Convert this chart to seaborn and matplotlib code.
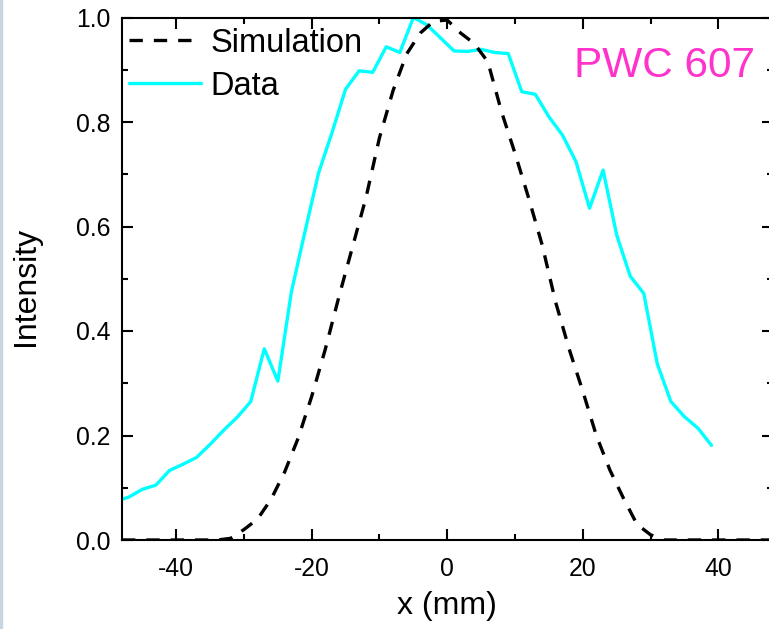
import numpy as np
import pandas as pd
import seaborn as sns
import matplotlib
matplotlib.use("Agg")
import matplotlib.pyplot as plt
from matplotlib.ticker import MultipleLocator
from matplotlib.patches import Rectangle

# ---- data ----
data_x = [-49, -47, -45, -43, -41, -39, -37, -35, -33, -31, -29, -27, -25, -23, -21,
          -19, -17, -15, -13, -11, -9, -7, -5, -3, -1, 1, 3, 5, 7, 9, 11, 13, 15,
          17, 19, 21, 23, 25, 27, 29, 31, 33, 35, 37, 39]
data_y = [0.074, 0.082, 0.097, 0.105, 0.133, 0.145, 0.158, 0.183, 0.210, 0.235,
          0.265, 0.366, 0.304, 0.475, 0.590, 0.702, 0.780, 0.863, 0.898, 0.895,
          0.944, 0.933, 1.000, 0.986, 0.961, 0.936, 0.935, 0.939, 0.933, 0.931,
          0.858, 0.853, 0.810, 0.775, 0.724, 0.635, 0.708, 0.584, 0.505, 0.472,
          0.337, 0.265, 0.236, 0.214, 0.181]

sim_x = [-48, -46, -44, -42, -40, -38, -36, -34, -32, -30, -28, -26, -24, -22, -20,
         -18, -16, -14, -12, -10, -8, -6, -4, -2, 0, 2, 4, 6, 8, 10, 12, 14, 16,
         18, 20, 22, 24, 26, 28, 30, 32, 34, 36, 38, 40, 42, 44, 46, 48]
sim_y = [0.0, 0.0, 0.0, 0.0, 0.0, 0.0, 0.0, 0.0, 0.003, 0.020, 0.040, 0.078, 0.130,
         0.195, 0.275, 0.365, 0.465, 0.560, 0.655, 0.770, 0.860, 0.930, 0.970,
         0.993, 0.995, 0.970, 0.950, 0.915, 0.820, 0.740, 0.655, 0.565, 0.455,
         0.365, 0.285, 0.200, 0.134, 0.080, 0.030, 0.010, 0.0, 0.0, 0.0, 0.0, 0.0,
         0.0, 0.0, 0.0, 0.0]

x_ticks = [-40, -20, 0, 20, 40]
y_ticks = [0.0, 0.2, 0.4, 0.6, 0.8, 1.0]
label_sim = "Simulation"
label_data = "Data"
annotation = "PWC 607"

df_data = pd.DataFrame({"x": data_x, "y": data_y})
df_sim = pd.DataFrame({"x": sim_x, "y": sim_y})

sns.set_style("ticks")
plt.rcParams["font.family"] = ["Liberation Sans", "DejaVu Sans"]
plt.rcParams["axes.unicode_minus"] = False
plt.rcParams["text.color"] = "black"
plt.rcParams["axes.labelcolor"] = "black"
plt.rcParams["xtick.color"] = "black"
plt.rcParams["ytick.color"] = "black"

fig = plt.figure(figsize=(7.69, 6.29), dpi=100)
ax = fig.add_axes([122 / 769, 1 - 540 / 629, (772.5 - 122) / 769, (540 - 17.5) / 629])

sns.lineplot(data=df_data, x="x", y="y", ax=ax, color="#00FFFF",
             label=label_data, sort=False)
sns.lineplot(data=df_sim, x="x", y="y", ax=ax, color="black",
             label=label_sim, sort=False)
ax.lines[0].set_linewidth(2.4)
ax.lines[1].set_linewidth(2.4)
ax.lines[1].set_linestyle((0, (4.0, 3.3)))

ax.set_xlim(-48, 48)
ax.set_ylim(0, 1.0)
ax.set_xticks(x_ticks)
ax.set_yticks(y_ticks)
ax.set_yticklabels([f"{v:.1f}" for v in y_ticks])
ax.xaxis.set_minor_locator(MultipleLocator(10))
ax.yaxis.set_minor_locator(MultipleLocator(0.1))
ax.tick_params(which="both", direction="in", top=True, right=True,
               labeltop=False, labelright=False, width=1.5, color="black")
ax.tick_params(which="major", length=8, labelsize=17.8)
ax.tick_params(axis="y", which="major", pad=8.5)
ax.tick_params(axis="x", which="major", pad=12)
ax.tick_params(which="minor", length=4.5)
for s in ax.spines.values():
    s.set_linewidth(1.5)
    s.set_color("black")

ax.set_xlabel("x (mm)", fontsize=23)
ax.set_ylabel("Intensity", fontsize=23)
ax.xaxis.set_label_coords(0.5, -0.098)
ax.yaxis.set_label_coords(-0.125, 0.485)

h, l = ax.get_legend_handles_labels()
order = [l.index(label_sim), l.index(label_data)]
leg = ax.legend([h[i] for i in order], [l[i] for i in order], loc="upper left",
                frameon=False, fontsize=23.5, handlelength=2.2, handletextpad=0.3,
                labelspacing=0.38, borderaxespad=0.0, borderpad=0.0,
                bbox_to_anchor=(7 / 650.5, 1 - 10 / 522.5))

ax.text(574 / 769, 1 - 77 / 629, annotation, transform=fig.transFigure,
        fontsize=30.5, color="#FF33CC", ha="left", va="baseline")

fig.patches.append(Rectangle((0, 0), 1.5 / 769, 1, transform=fig.transFigure,
                             color="#c9d5df", zorder=-1))

fig.savefig("out.png", dpi=100)
